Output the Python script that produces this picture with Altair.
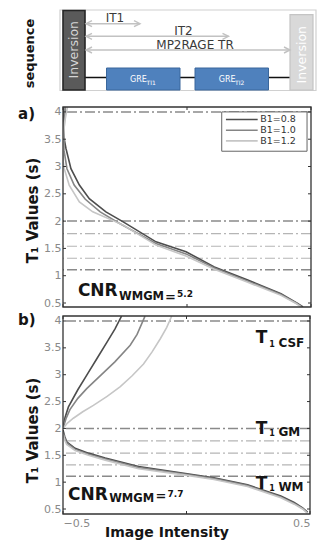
import altair as alt
import pandas as pd

# ---------------- data ----------------
series_names = ["B1=0.8", "B1=1.0", "B1=1.2"]
series_colors = ["#4d4d4d", "#858585", "#c6c6c6"]

a_x_08 = [-0.497, -0.496, -0.495, -0.488, -0.468, -0.434, -0.394, -0.327, -0.259, -0.125, -0.004, 0.110, 0.245, 0.379, 0.446, 0.468]
a_y_08 = [4.09, 3.80, 3.50, 3.33, 2.96, 2.66, 2.41, 2.17, 1.99, 1.62, 1.44, 1.16, 0.92, 0.67, 0.49, 0.43]
a_x_10 = [-0.490, -0.497, -0.496, -0.484, -0.455, -0.410, -0.350, -0.277, -0.125, -0.004, 0.110, 0.245, 0.379, 0.443, 0.464]
a_y_10 = [4.09, 3.60, 3.30, 2.96, 2.66, 2.40, 2.17, 1.97, 1.59, 1.40, 1.14, 0.90, 0.655, 0.49, 0.43]
a_x_12 = [-0.482, -0.494, -0.499, -0.499, -0.495, -0.475, -0.434, -0.380, -0.294, -0.259, -0.125, -0.004, 0.110, 0.245, 0.379, 0.440, 0.460]
a_y_12 = [4.09, 3.80, 3.40, 3.10, 2.96, 2.66, 2.35, 2.17, 2.00, 1.93, 1.56, 1.36, 1.12, 0.88, 0.64, 0.49, 0.43]

b_lo_x = [-0.500, -0.493, -0.485, -0.451, -0.397, -0.329, -0.194, -0.004, 0.111, 0.247, 0.382, 0.436, 0.470, 0.490]
b_lo_y_08 = [1.97, 1.85, 1.75, 1.63, 1.54, 1.45, 1.29, 1.16, 1.08, 0.95, 0.74, 0.62, 0.52, 0.44]
b_lo_y_10 = [1.94, 1.82, 1.73, 1.61, 1.52, 1.43, 1.27, 1.145, 1.065, 0.935, 0.725, 0.605, 0.51, 0.43]
b_lo_y_12 = [1.90, 1.78, 1.70, 1.59, 1.50, 1.41, 1.25, 1.13, 1.05, 0.92, 0.71, 0.59, 0.50, 0.42]
b_up_x_08 = [-0.500, -0.492, -0.478, -0.440, -0.400, -0.360, -0.320, -0.290, -0.263]
b_up_y_08 = [2.00, 2.20, 2.40, 2.72, 3.02, 3.32, 3.62, 3.85, 4.09]
b_up_x_10 = [-0.500, -0.488, -0.472, -0.440, -0.404, -0.340, -0.290, -0.228, -0.200, -0.168]
b_up_y_10 = [2.00, 2.18, 2.35, 2.56, 2.74, 3.02, 3.24, 3.55, 3.75, 4.09]
b_up_x_12 = [-0.500, -0.482, -0.458, -0.420, -0.377, -0.320, -0.268, -0.220, -0.174, -0.140, -0.106, -0.080, -0.060]
b_up_y_12 = [2.00, 2.10, 2.19, 2.31, 2.43, 2.60, 2.78, 2.98, 3.20, 3.42, 3.67, 3.88, 4.09]

ref_t1 = [4.0, 2.0, 1.77, 1.54, 1.32, 1.11]
ref_kind = ["major", "major", "minor", "minor", "minor", "major"]

y_ticks = [0.5, 1.0, 1.5, 2.0, 2.5, 3.0, 3.5, 4.0]
x_ticks = [-0.5, 0.0, 0.5]

# sequence diagram (schematic time units)
seq_parts = ["frame", "inv1", "inv2", "gre1", "gre2"]
seq_x0 = [-3, 0, 227, 43.5, 132]
seq_x1 = [253, 22, 250, 117, 205.5]
seq_y0 = [0, 0.5, 4.7, 58, 58]
seq_y1 = [80.5, 80, 80, 80, 80]
seq_line_x = [22, 227]
seq_line_y = [67.5]
arrow_names = ["IT1", "IT2", "MP2RAGE TR"]
arrow_start = [23, 23, 23]
arrow_end = [77, 165.5, 227]
arrow_y = [13.7, 26.3, 40.0]
arrow_label_x = [52, 120.5, 132]
inv_label_x = [11, 238.5]
inv_label_y = [39.7, 44.7]
gre_label_x = [67, 155.7]
gre_label_y = [72, 72]
gre_sub_x = [83.5, 172]
gre_sub_y = [74.5, 74.5]
gre_sub_text = ["TI1", "TI2"]

FONT = "DejaVu Sans"
TXT = "#151515"
LBL = "#8a8a8a"
FRAME = "#333333"

# ---------------- sequence chart ----------------
seq_style = {
    "frame": ("#ffffff", "#d0d0d0", 1.2),
    "inv1": ("#5a5a5a", "#262626", 1.6),
    "inv2": ("#d9d9d9", "#c4c4c4", 1.2),
    "gre1": ("#4f81bd", "#3a679c", 1.0),
    "gre2": ("#4f81bd", "#3a679c", 1.0),
}
sx = alt.Scale(domain=[0, 248], nice=False, zero=False)
sy = alt.Scale(domain=[0, 88], nice=False, zero=False, reverse=True)
seq_yaxis = alt.Axis(title="sequence", labels=False, ticks=False, domain=False, grid=False,
                     titleFontSize=13, titleFontWeight="bold", titleColor=TXT,
                     titleX=-34, titleY=43, titleBaseline="middle", titleAngle=270)

seq_df = pd.DataFrame({"part": seq_parts, "x0": seq_x0, "x1": seq_x1, "y0": seq_y0, "y1": seq_y1})
line_df = pd.DataFrame({"x0": [seq_line_x[0]], "x1": [seq_line_x[1]], "y": seq_line_y})
arr_df = pd.DataFrame({"name": arrow_names, "x0": arrow_start, "x1": arrow_end, "y": arrow_y, "lx": arrow_label_x})
inv_df = pd.DataFrame({"t": ["Inversion", "Inversion"], "x": inv_label_x, "y": inv_label_y, "n": [0, 1]})
gre_df = pd.DataFrame({"x": gre_label_x, "y": gre_label_y, "sx": gre_sub_x, "sy": gre_sub_y,
                       "sub": gre_sub_text, "main": ["GRE", "GRE"]})


def SX(f):
    return alt.X(f, scale=sx, axis=None)


def SY(f):
    return alt.Y(f, scale=sy, axis=seq_yaxis)


def rect_layer(name):
    f, s, w = seq_style[name]
    return alt.Chart(seq_df).transform_filter(alt.datum.part == name).mark_rect(
        fill=f, stroke=s, strokeWidth=w).encode(x=SX("x0:Q"), x2="x1:Q", y=SY("y0:Q"), y2="y1:Q")


seq_layers = [rect_layer("frame")]
seq_layers.append(alt.Chart(line_df).mark_rule(color="#111111", strokeWidth=1.6).encode(
    x=SX("x0:Q"), x2="x1:Q", y=SY("y:Q")))
for nm in ["inv1", "inv2", "gre1", "gre2"]:
    seq_layers.append(rect_layer(nm))
ARC = "#c2c2c2"
seq_layers.append(alt.Chart(arr_df).mark_rule(color=ARC, strokeWidth=1.4).encode(
    x=SX("x0:Q"), x2="x1:Q", y=SY("y:Q")))
seq_layers.append(alt.Chart(arr_df).mark_point(shape="M2,-1L0,0L2,1", size=36, filled=False, color=ARC,
                                               strokeWidth=1.4, opacity=1).encode(x=SX("x0:Q"), y=SY("y:Q")))
seq_layers.append(alt.Chart(arr_df).mark_point(shape="M-2,-1L0,0L-2,1", size=36, filled=False, color=ARC,
                                               strokeWidth=1.4, opacity=1).encode(x=SX("x1:Q"), y=SY("y:Q")))
seq_layers.append(alt.Chart(arr_df).mark_text(fontSize=12, color="#3a3a3a", align="center",
                                              baseline="alphabetic", dy=-1.5).encode(
    x=SX("lx:Q"), y=SY("y:Q"), text="name:N"))
for n, col in [(0, "#d6d6d6"), (1, "#ffffff")]:
    seq_layers.append(alt.Chart(inv_df).transform_filter(alt.datum.n == n).mark_text(
        fontSize=12.5, color=col, angle=270, align="center", baseline="middle").encode(
        x=SX("x:Q"), y=SY("y:Q"), text="t:N"))
seq_layers.append(alt.Chart(gre_df).mark_text(fontSize=8, color="#ffffff", align="left",
                                              baseline="alphabetic").encode(x=SX("x:Q"), y=SY("y:Q"), text="main:N"))
seq_layers.append(alt.Chart(gre_df).mark_text(fontSize=6, color="#ffffff", align="left",
                                              baseline="alphabetic").encode(x=SX("sx:Q"), y=SY("sy:Q"), text="sub:N"))

seq = alt.layer(*seq_layers).properties(width=248, height=88)


# ---------------- panels ----------------
def curve_frame(parts):
    rows = []
    for series, branch, xs, ys in parts:
        for i, (xv, yv) in enumerate(zip(xs, ys)):
            rows.append({"series": series, "branch": branch, "i": i, "x": xv, "y": yv})
    return pd.DataFrame(rows)


df_a = curve_frame([
    (series_names[0], "main", a_x_08, a_y_08),
    (series_names[1], "main", a_x_10, a_y_10),
    (series_names[2], "main", a_x_12, a_y_12),
])
df_b = curve_frame([
    (series_names[0], "lo", b_lo_x, b_lo_y_08),
    (series_names[1], "lo", b_lo_x, b_lo_y_10),
    (series_names[2], "lo", b_lo_x, b_lo_y_12),
    (series_names[0], "up", b_up_x_08, b_up_y_08),
    (series_names[1], "up", b_up_x_10, b_up_y_10),
    (series_names[2], "up", b_up_x_12, b_up_y_12),
])
ref_df = pd.DataFrame({"t1": ref_t1, "kind": ref_kind})
color_scale = alt.Scale(domain=series_names, range=series_colors)

# annotation texts (text, x, y, font size) in data coordinates of each panel
ann_a = pd.DataFrame({
    "t": ["a)", "CNR", "WMGM", "=", "5.2"],
    "x": [-0.681, -0.440, -0.274, -0.089, -0.040],
    "y": [3.87, 0.63, 0.551, 0.53, 0.61],
    "fs": [15, 17, 11.5, 13, 9],
})
tissues = ["CSF", "GM", "WM"]
tissue_t_y = [3.596, 1.901, 0.877]
tissue_sub_y = [3.516, 1.868, 0.844]
ann_b_rows = [("b)", -0.682, 3.925, 15), ("CNR", -0.480, 0.661, 17), ("WMGM", -0.313, 0.63, 11.5),
              ("=", -0.126, 0.66, 13), ("7.7", -0.077, 0.72, 9)]
for tname, ty_, sy_ in zip(tissues, tissue_t_y, tissue_sub_y):
    ann_b_rows += [("T", 0.2805, ty_, 17), ("1", 0.335, sy_, 8), (tname, 0.372, sy_, 12)]
ann_b = pd.DataFrame(ann_b_rows, columns=["t", "x", "y", "fs"])

# legend of panel a (data coordinates)
leg_box = pd.DataFrame({"x0": [0.14], "x1": [0.484], "y0": [3.28], "y1": [4.0]})
leg_rows = pd.DataFrame({"series": series_names, "y": [3.862, 3.665, 3.47],
                         "x0": [0.157] * 3, "x1": [0.285] * 3, "tx": [0.295] * 3})


def panel(df, ydom, width, height, title_y, xaxis, ann, legend):
    xs = alt.Scale(domain=[-0.5, 0.5], nice=False, zero=False)
    ys = alt.Scale(domain=ydom, nice=False, zero=False)
    yaxis = alt.Axis(values=y_ticks, format="~g", title="T₁ Values (s)", ticks=False, domain=False,
                     grid=False, labelPadding=2, labelFontSize=11, labelColor=LBL,
                     titleFontSize=15, titleFontWeight="bold", titleColor=TXT,
                     titleX=-31, titleY=title_y, titleBaseline="middle", titleAngle=270)

    def PX(f):
        return alt.X(f, scale=xs, axis=xaxis)

    def PY(f):
        return alt.Y(f, scale=ys, axis=yaxis)

    tx = 3.0 / width
    ty = 3.0 * (ydom[1] - ydom[0]) / height
    yt = pd.DataFrame({
        "y": y_ticks * 2,
        "x0": [-0.5] * len(y_ticks) + [0.5 - tx] * len(y_ticks),
        "x1": [-0.5 + tx] * len(y_ticks) + [0.5] * len(y_ticks),
    })
    xt = pd.DataFrame({
        "x": x_ticks * 2,
        "y0": [ydom[0]] * len(x_ticks) + [ydom[1] - ty] * len(x_ticks),
        "y1": [ydom[0] + ty] * len(x_ticks) + [ydom[1]] * len(x_ticks),
    })
    frame = pd.DataFrame({"x0": [-0.5], "x1": [0.5], "y0": [ydom[0]], "y1": [ydom[1]]})

    layers = []
    for kind, col, w in [("minor", "#b5b5b5", 1.2), ("major", "#8a8a8a", 1.5)]:
        layers.append(alt.Chart(ref_df).transform_filter(alt.datum.kind == kind).mark_rule(
            color=col, strokeWidth=w, strokeDash=[10, 3, 2, 3]).encode(y=PY("t1:Q")))
    layers.append(alt.Chart(df).mark_line(strokeWidth=1.6, clip=True).encode(
        x=PX("x:Q"), y=PY("y:Q"),
        color=alt.Color("series:N", scale=color_scale, legend=None),
        detail="branch:N", order="i:Q"))
    layers.append(alt.Chart(yt).mark_rule(color=FRAME, strokeWidth=1).encode(
        x=PX("x0:Q"), x2="x1:Q", y=PY("y:Q")))
    layers.append(alt.Chart(xt).mark_rule(color=FRAME, strokeWidth=1).encode(
        x=PX("x:Q"), y=PY("y0:Q"), y2="y1:Q"))
    if legend:
        layers.append(alt.Chart(leg_box).mark_rect(fill="#ffffff", stroke="#666666", strokeWidth=1).encode(
            x=PX("x0:Q"), x2="x1:Q", y=PY("y0:Q"), y2="y1:Q"))
        layers.append(alt.Chart(leg_rows).mark_rule(strokeWidth=1.6).encode(
            x=PX("x0:Q"), x2="x1:Q", y=PY("y:Q"),
            color=alt.Color("series:N", scale=color_scale, legend=None)))
        layers.append(alt.Chart(leg_rows).mark_text(fontSize=9.5, align="left", baseline="middle",
                                                    color="#333333").encode(
            x=PX("tx:Q"), y=PY("y:Q"), text="series:N"))
    layers.append(alt.Chart(ann).mark_text(fontWeight="bold", align="left", baseline="alphabetic",
                                           color=TXT).encode(
        x=PX("x:Q"), y=PY("y:Q"), text="t:N", size=alt.Size("fs:Q", scale=None)))
    layers.append(alt.Chart(frame).mark_rect(fillOpacity=0, stroke=FRAME, strokeWidth=1.3).encode(
        x=PX("x0:Q"), x2="x1:Q", y=PY("y0:Q"), y2="y1:Q"))
    return alt.layer(*layers).properties(width=width, height=height)


xaxis_a = alt.Axis(labels=False, ticks=False, domain=False, grid=False, title="")
xaxis_b = alt.Axis(values=[-0.5, 0.5], format="~g", labelFlush=True, ticks=False, domain=False, grid=False,
                   labelPadding=3, labelFontSize=11, labelColor=LBL, title="Image Intensity",
                   titleFontSize=14, titleFontWeight="bold", titleColor=TXT, titleX=103.5, titleY=18,
                   titleBaseline="middle")

pa = panel(df_a, [0.427, 4.09], 248, 200, 103, xaxis_a, ann_a, True)
pb = panel(df_b, [0.407, 4.093], 247, 198, 114, xaxis_b, ann_b, False)

chart = alt.vconcat(seq, pa, pb, spacing=9, bounds="flush").properties(
    padding={"left": 9, "top": 0, "right": 0, "bottom": 0}
).configure(font=FONT).configure_view(stroke="transparent")

chart.save("out.html", embed_options={"renderer": "svg", "actions": False})
